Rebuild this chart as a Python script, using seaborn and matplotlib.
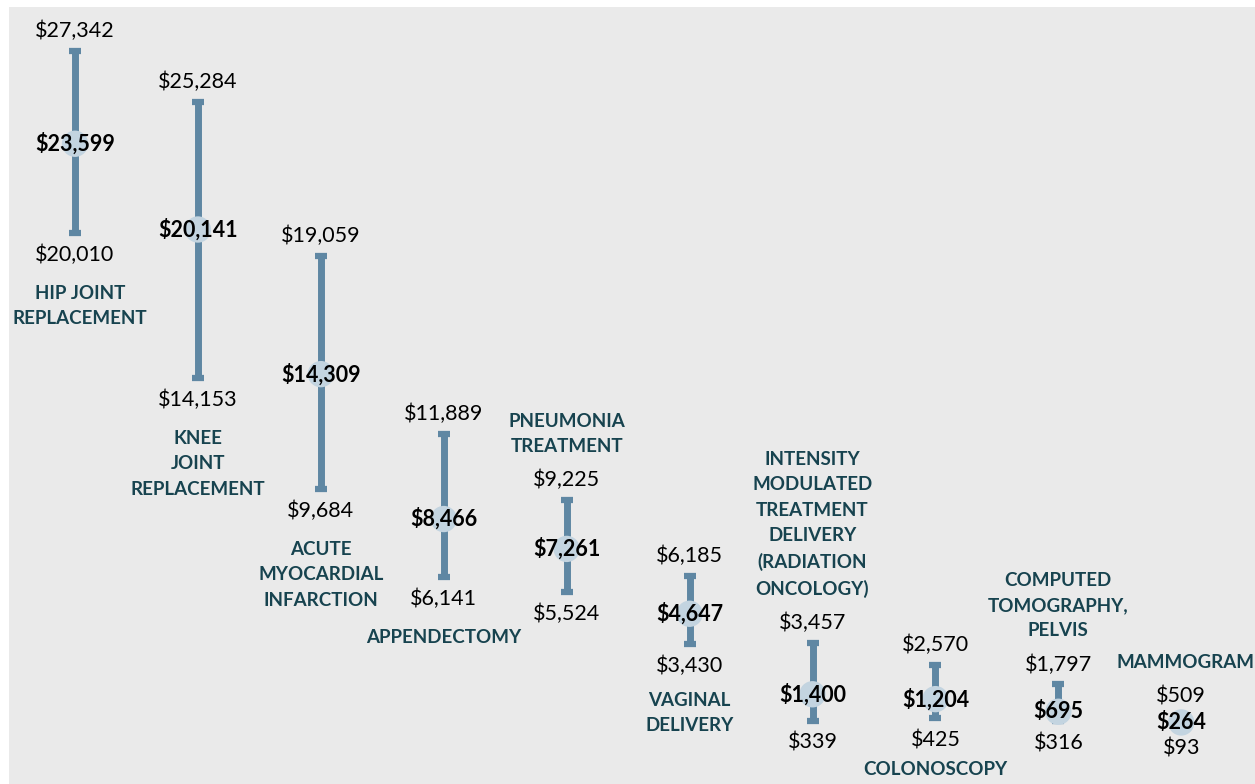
import matplotlib
matplotlib.use("Agg")
import matplotlib.pyplot as plt
import seaborn as sns
import pandas as pd

# Procedure price ranges (low / median / high), in dollars
procedures = [
    "HIP JOINT\nREPLACEMENT",
    "KNEE\nJOINT\nREPLACEMENT",
    "ACUTE\nMYOCARDIAL\nINFARCTION",
    "APPENDECTOMY",
    "PNEUMONIA\nTREATMENT",
    "VAGINAL\nDELIVERY",
    "INTENSITY\nMODULATED\nTREATMENT\nDELIVERY\n(RADIATION\nONCOLOGY)",
    "COLONOSCOPY",
    "COMPUTED\nTOMOGRAPHY,\nPELVIS",
    "MAMMOGRAM",
]
low_price = [20010, 14153, 9684, 6141, 5524, 3430, 339, 425, 316, 93]
median_price = [23599, 20141, 14309, 8466, 7261, 4647, 1400, 1204, 695, 264]
high_price = [27342, 25284, 19059, 11889, 9225, 6185, 3457, 2570, 1797, 509]

# Where each procedure name sits relative to its range
name_side = ["below", "below", "below", "below", "above",
             "below", "above", "below", "above", "above"]

df = pd.DataFrame({
    "procedure": procedures,
    "pos": range(len(procedures)),
    "low": low_price,
    "median": median_price,
    "high": high_price,
    "side": name_side,
})

sns.set_theme(style="white")
plt.rcParams["font.family"] = ["Lato", "DejaVu Sans"]

BG = "#EAEAEA"
BAR = "#5F87A3"
DOT = "#C3D4E0"
NAME = "#17434F"

fig = plt.figure(figsize=(12.55, 7.84), dpi=100)
fig.patch.set_facecolor("white")
ax = fig.add_axes([9 / 1255, 0, 1 - 9 / 1255, 777 / 784])
ax.set_facecolor(BG)

# Range bars with end caps
ax.errorbar(
    df["pos"], (df["low"] + df["high"]) / 2,
    yerr=(df["high"] - df["low"]) / 2,
    fmt="none", ecolor=BAR, elinewidth=5, capsize=4.5, capthick=4.5,
    zorder=2,
)

# Median dots
sns.scatterplot(data=df, x="pos", y="median", s=360, color=DOT,
                edgecolor="none", ax=ax, zorder=3, legend=False)

px = 0.72  # points per pixel at 100 dpi
VAL_FS = 15.5
NAME_FS = 13.5
LS = 1.6

for r in df.itertuples():
    # high / low values
    ax.annotate(f"${r.high:,.0f}", (r.pos, r.high), xytext=(0, 20 * px),
                textcoords="offset points", ha="center", va="center",
                fontsize=VAL_FS, color="black", zorder=4)
    ax.annotate(f"${r.low:,.0f}", (r.pos, r.low), xytext=(0, -22 * px),
                textcoords="offset points", ha="center", va="center",
                fontsize=VAL_FS, color="black", zorder=4)
    # median value
    ax.annotate(f"${r.median:,.0f}", (r.pos, r.median), xytext=(0, 0),
                textcoords="offset points", ha="center", va="center",
                fontsize=VAL_FS, fontweight="bold", color="black", zorder=5)
    # procedure name
    if r.procedure == "MAMMOGRAM":
        dx = 4 * px
    elif r.procedure.startswith("HIP"):
        dx = 5 * px
    else:
        dx = 0
    if r.side == "below":
        if r.procedure == "COLONOSCOPY":
            gap = -43
        elif r.procedure.startswith("VAGINAL"):
            gap = -48
        else:
            gap = -52
        ax.annotate(r.procedure, (r.pos, r.low), xytext=(dx, gap * px),
                    textcoords="offset points", ha="center", va="top",
                    fontsize=NAME_FS, fontweight="bold", color=NAME,
                    linespacing=LS, zorder=4, annotation_clip=False)
    else:
        ax.annotate(r.procedure, (r.pos, r.high), xytext=(dx, 45 * px),
                    textcoords="offset points", ha="center", va="bottom",
                    fontsize=NAME_FS, fontweight="bold", color=NAME,
                    linespacing=LS, zorder=4, annotation_clip=False)

ax.set_xlim(-0.537, 9.60)
ax.set_ylim(-2218, 29113)
ax.set_xticks([])
ax.set_yticks([])
ax.set_xlabel("")
ax.set_ylabel("")
for s in ax.spines.values():
    s.set_visible(False)

fig.savefig("out.png", dpi=100, facecolor=fig.get_facecolor())
